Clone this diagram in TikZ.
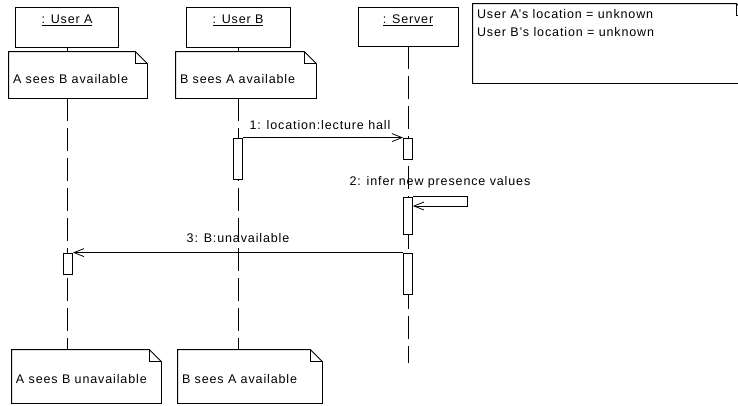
\documentclass[tikz,border=0pt]{standalone}
\usepackage{fontspec}
\setmainfont{Liberation Sans}[LetterSpace=7]
\usepackage{tikz}
\usetikzlibrary{arrows}
\usetikzlibrary{arrows.meta}
\usetikzlibrary{positioning}
\usetikzlibrary{math}
\tikzstyle{head} = [rectangle, draw=black, line width=0.8pt, minimum height=40pt, inner sep=0pt]
\tikzstyle{note} = [rectangle, inner sep=0pt]
\tikzstyle{act} = [rectangle, draw=black, fill=white, line width=0.8pt, minimum width=9pt, inner sep=0pt]
\tikzstyle{txt} = [inner sep=0pt, font=\fontsize{12.5}{14}\selectfont]
\tikzstyle{life} = [line width=0.8pt, dash pattern=on 23pt off 7pt]
\tikzstyle{msg} = [->, >={Straight Barb[length=10pt, width=8pt]}, line width=0.8pt]

\begin{document}
\begin{tikzpicture}[x=1pt, y=-1pt, line width=0.8pt]

  \useasboundingbox (0,0) rectangle (738,405);
  \tikzmath{\fold = 12;}

  % Heads
  \node[head, minimum width=103pt] (userA) at (67,27) {};
  \node[head, minimum width=104pt] (userB) at (238,27) {};
  \node[head, minimum width=100pt, minimum height=39pt] (server) at (408,26.5) {};
  \node[txt, below=8pt of userA.north] (userAlbl) {\underline{: User A}};
  \node[txt, below=8pt of userB.north] (userBlbl) {\underline{: User B}};
  \node[txt, below=8pt of server.north] (serverlbl) {\underline{: Server}};

  % Notes
  \node[note, minimum width=138pt, minimum height=46pt] (noteA1) at (78,75) {};
  \node[note, minimum width=140pt, minimum height=46pt] (noteB1) at (246,75) {};
  \node[note, minimum width=149pt, minimum height=53pt] (noteA2) at (86.5,376.5) {};
  \node[note, minimum width=144pt, minimum height=53pt] (noteB2) at (250,376.5) {};
  \node[note, minimum width=275pt, minimum height=79pt] (info) at (610.5,43.5) {};

  \foreach \n in {noteA1, noteB1, noteA2, noteB2, info} {
    \draw (\n.south west) -- (\n.north west) -- ([xshift=-\fold pt]\n.north east)
      -- ([yshift=-\fold pt]\n.north east) -- (\n.south east) -- cycle;
    \draw ([xshift=-\fold pt]\n.north east) -- ([xshift=-\fold pt, yshift=-\fold pt]\n.north east)
      -- ([yshift=-\fold pt]\n.north east);
  }

  \node[txt, anchor=base west] (noteA1txt) at ([xshift=4pt, yshift=-32pt]noteA1.north west) {A sees B available};
  \node[txt, anchor=base west] (noteB1txt) at ([xshift=4pt, yshift=-32pt]noteB1.north west) {B sees A available};
  \node[txt, anchor=base west] (noteA2txt) at ([xshift=4pt, yshift=-34pt]noteA2.north west) {A sees B unavailable};
  \node[txt, anchor=base west] (noteB2txt) at ([xshift=4pt, yshift=-34pt]noteB2.north west) {B sees A available};
  \node[txt, anchor=base west] (infoA) at ([xshift=4pt, yshift=-15pt]info.north west) {User A's location = unknown};
  \node[txt, anchor=base west] (infoB) at ([xshift=4pt, yshift=-33pt]info.north west) {User B's location = unknown};

  % Lifelines
  \coordinate (sEnd) at (408,363);
  \draw (userA.south) -- (userA.south |- noteA1.north);
  \draw (userB.south) -- (userB.south |- noteB1.north);
  \draw[life] (userA |- noteA1.south) -- (userA |- noteA2.north);
  \draw[life] (userB |- noteB1.south) -- (userB |- noteB2.north);
  \draw[life] (server.south) -- (sEnd);

  % Activations
  \node[act, minimum height=41pt] (bAct) at (238,158.5) {};
  \node[act, minimum height=21pt] (sAct1) at (408,148.5) {};
  \node[act, minimum height=37pt] (sAct2) at (408,215.5) {};
  \node[act, minimum height=41pt] (sAct3) at (408,273.5) {};
  \node[act, minimum height=21pt] (aAct) at (68,263.5) {};

  % Messages
  \draw[msg] (bAct.north east) -- node[txt, above=8pt, xshift=-3pt] (m1) {1: location:lecture hall} (sAct1.north west);

  \coordinate (loop) at (467,206);
  \draw[msg] (sAct2.north east) -- node[txt, above=8.5pt] (m2) {2: infer new presence values} (sAct2.north east -| loop)
    -- (loop) -- (sAct2.east |- loop);

  \draw[msg] (sAct3.north west) -- node[txt, above=10pt] (m3) {3: B:unavailable} (aAct.north east);

\end{tikzpicture}
\end{document}
